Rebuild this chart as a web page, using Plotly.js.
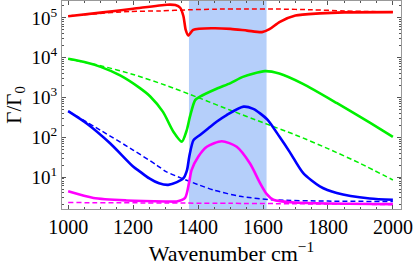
<!DOCTYPE html>
<html><head><meta charset="utf-8">
<script src="https://cdn.plot.ly/plotly-3.0.1.min.js"></script>
<style>html,body{margin:0;padding:0;background:#fff}#c{width:415px;height:268px}</style>
</head><body><div id="c"></div>
<script>
// Data
const redSolidX = [1000,1100,1200,1305,1330,1345,1355,1362,1370,1385,1446,1500,1551,1597,1620,1652,1700,1775,1850,2000];
const redSolidY = [1.1e5,1.36e5,1.7e5,2.15e5,2.1e5,1.8e5,1.1e5,5.0e4,3.6e4,5.0e4,5.5e4,5.3e4,4.8e4,4.4e4,5.2e4,8.0e4,1.15e5,1.3e5,1.38e5,1.4e5];
const redDashX = [1000,1077,1191,1283,1375,1450,1550,1650,1750,1850,2000];
const redDashY = [1.12e5,1.26e5,1.45e5,1.5e5,1.6e5,1.66e5,1.68e5,1.67e5,1.6e5,1.5e5,1.4e5];

const greenSolidX = [1000,1050,1100,1160,1220,1252,1292,1324,1350,1365,1375,1391,1406,1457,1500,1538,1606,1650,1723,1828,1929,2000];
const greenSolidY = [9.4e3,7.8e3,5.9e3,3.6e3,1.75e3,1.08e3,436,139,78,150,330,860,1050,1660,2300,3300,4600,4000,2200,720,233,103];
const greenDashX = [1000,1100,1200,1300,1400,1500,1600,1700,1800,1900,2000];
const greenDashY = [9.3e3,6.3e3,3.8e3,2.04e3,1000,479,234,115,52,22,8.5];

const blueSolidX = [1000,1057,1129,1200,1221,1250,1280,1308,1335,1355,1366,1373,1386,1406,1431,1457,1488,1540,1570,1591,1615,1652,1683,1724,1775,1827,1929,2000];
const blueSolidY = [455,223,71,18.5,13.8,9.3,7.0,6.4,7.5,9.4,15,33,85,115,167,246,363,590,520,400,270,100,42,12.6,5.9,4.0,2.9,2.7];
const blueDashX = [1000,1100,1200,1273,1300,1350,1400,1450,1529,1631,1800,2000];
const blueDashY = [455,150,48,20,14,9.3,6.5,4.7,3.3,2.7,2.5,2.45];

const magSolidX = [1000,1078,1180,1300,1334,1360,1373,1380,1401,1427,1473,1519,1560,1591,1611,1632,1700,2000];
const magSolidY = [4.4,3.0,2.6,2.45,2.45,3.0,7.8,15,33,58,80,58,22,7.1,3.8,2.7,2.3,2.1];
const magDashX = [1000,1500,2000];
const magDashY = [2.3,2.2,2.05];

const bandRange = [1372, 1611];
const yTickVals = [10,100,1000,10000,100000];
const yTickText = ['10<sup>1</sup>','10<sup>2</sup>','10<sup>3</sup>','10<sup>4</sup>','10<sup>5</sup>'];
const xTickVals = [1000,1200,1400,1600,1800,2000];

function tr(x,y,color,dash){
  return {x:x,y:y,type:'scatter',mode:'lines',hoverinfo:'skip',
    line:{color:color,width:dash?1.5:2.6,dash:dash?'5px,3px':'solid',shape:'spline',smoothing:0.7}};
}
const data = [
  tr(redDashX,redDashY,'#ff0000',true), tr(redSolidX,redSolidY,'#ff0000',false),
  tr(greenDashX,greenDashY,'#00f000',true), tr(greenSolidX,greenSolidY,'#00f000',false),
  tr(blueDashX,blueDashY,'#0000ff',true), tr(blueSolidX,blueSolidY,'#0000ff',false),
  tr(magDashX,magDashY,'#ff00ff',true), tr(magSolidX,magSolidY,'#ff00ff',false)
];
const font = {family:'Liberation Serif, Times New Roman, serif', color:'#000'};
const layout = {
  width:415,height:268,margin:{l:62,r:14,t:1,b:59},
  paper_bgcolor:'#fff',plot_bgcolor:'#fff',showlegend:false,
  font:Object.assign({size:19},font),
  shapes:[{type:'rect',xref:'x',yref:'paper',x0:bandRange[0],x1:bandRange[1],y0:0,y1:1,
    fillcolor:'rgb(181,207,250)',line:{width:0},layer:'below'}],
  xaxis:{range:[981,2025],tickvals:xTickVals,ticks:'inside',ticklen:4,tickcolor:'#555',
    showline:true,linecolor:'#999',linewidth:1,mirror:'ticks',showgrid:false,zeroline:false,
    minor:{dtick:50,tick0:1000,ticks:'inside',ticklen:2,tickcolor:'#555'},
    tickfont:Object.assign({size:20},font),
    title:{text:'Wavenumber cm<sup>\u22121</sup>',font:Object.assign({size:22},font),standoff:8}},
  yaxis:{type:'log',range:[0.2,5.425],tickvals:yTickVals,ticktext:yTickText,ticks:'inside',ticklen:4,tickcolor:'#555',
    showline:true,linecolor:'#999',linewidth:1,mirror:'ticks',showgrid:false,zeroline:false,
    minor:{dtick:'D1',ticks:'inside',ticklen:2,tickcolor:'#555'},
    tickfont:Object.assign({size:19},font),
    title:{text:'\u0393/\u0393<sub>0</sub>',font:Object.assign({size:21},font),standoff:4}}
};
Plotly.newPlot('c',data,layout,{staticPlot:true,displayModeBar:false});
</script></body></html>
